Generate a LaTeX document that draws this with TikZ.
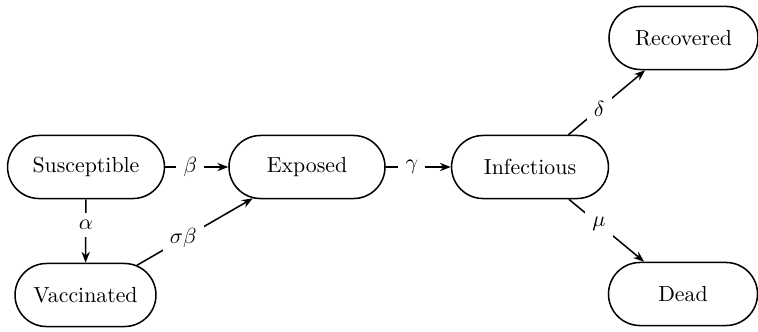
\documentclass[tikz,border=0pt]{standalone}
\usetikzlibrary{shapes.misc,arrows.meta}
\begin{document}
\begin{tikzpicture}[x=0.4583pt,y=-0.4583pt,
  state/.style={draw,rounded rectangle,line width=0.7pt,minimum height=28.9pt,inner sep=0pt},
  flow/.style={line width=0.7pt,-{Stealth[length=5pt,width=3.8pt]}},
  rate/.style={fill=white,pos=0.4}]
\useasboundingbox (0,0) rectangle (758,331);
\node[state,minimum width=71.9pt] (S) at (86,167) {Susceptible};
\node[state,minimum width=71.5pt] (E) at (307,167) {Exposed};
\node[state,minimum width=71.9pt] (I) at (530,167) {Infectious};
\node[state,minimum width=68.3pt] (R) at (683.5,38) {Recovered};
\node[state,minimum width=68.3pt] (D) at (683,294) {Dead};
\node[state,minimum width=64.6pt] (V) at (85.5,295) {Vaccinated};
\draw[flow] (S) -- node[rate] {$\beta$} (E);
\draw[flow] (E) -- node[rate] {$\gamma$} (I);
\draw[flow] (S) -- node[rate] {$\alpha$} (V);
\draw[flow] (V) -- node[rate] {$\sigma\beta$} (E);
\draw[flow] (I) -- node[rate] {$\delta$} (R);
\draw[flow] (I) -- node[rate] {$\mu$} (D);
\end{tikzpicture}
\end{document}
